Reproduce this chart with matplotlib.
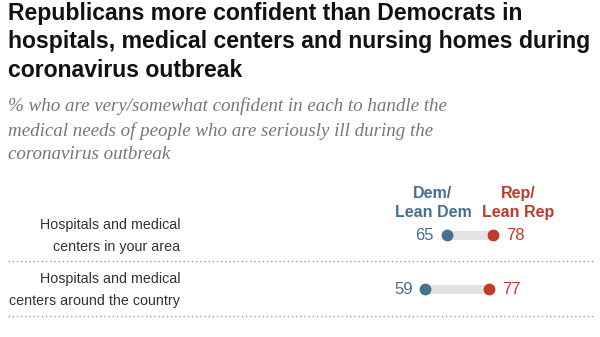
import matplotlib.pyplot as plt
from matplotlib import font_manager

# 数据
Items = ["Hospitals and medical\ncenters in your area",
         "Hospitals and medical\ncenters around the country"]
Dem_Vals = [65, 59]
Rep_Vals = [78, 77]

Dem_Color = "#46708f"
Rep_Color = "#be3b26"

names = set(f.name for f in font_manager.fontManager.ttflist)
narrow = "Liberation Sans Narrow" if "Liberation Sans Narrow" in names else "Liberation Sans"

fig = plt.figure(figsize=(6.0, 3.37), dpi=100)
W, H = 600, 337

# 标题和副标题（按像素定位）
fig.text(8 / W, 1 - 2 / H,
         "Republicans more confident than Democrats in\n"
         "hospitals, medical centers and nursing homes during\n"
         "coronavirus outbreak",
         family=narrow, weight="bold", fontsize=16.6, color="#111111",
         va="top", ha="left", linespacing=1.3)
fig.text(8 / W, 1 - 97 / H,
         "% who are very/somewhat confident in each to handle the\n"
         "medical needs of people who are seriously ill during the\n"
         "coronavirus outbreak",
         family="Liberation Serif", style="italic", fontsize=13.7,
         color="#777777", va="top", ha="left", linespacing=1.5)

# 点图坐标轴：x为数值，y为像素
ax = fig.add_axes([0, 0, 1, 1])
ax.set_xlim(-216 / 3.55, (W - 216) / 3.55)
ax.set_ylim(H, 0)
ax.axis("off")

row_y = [235, 289]
sep_y = [261, 316]

ax.text((433 - 216) / 3.55, 203, "Dem/\nLean Dem", color=Dem_Color,
        family=narrow, weight="bold", fontsize=11.5, ha="center", va="center",
        linespacing=1.3)
ax.text((518 - 216) / 3.55, 203, "Rep/\nLean Rep", color=Rep_Color,
        family=narrow, weight="bold", fontsize=11.5, ha="center", va="center",
        linespacing=1.3)

for i in range(len(Items)):
    y = row_y[i]
    d, r = Dem_Vals[i], Rep_Vals[i]
    ax.plot([d, r], [y, y], color="#e3e3e3", lw=6.5, solid_capstyle="butt", zorder=1)
    ax.plot(d, y, "o", color=Dem_Color, ms=7.5, zorder=2)
    ax.plot(r, y, "o", color=Rep_Color, ms=7.5, zorder=2)
    ax.text(d - 3.6, y, str(d), color=Dem_Color, fontsize=12,
            family="Liberation Sans", ha="right", va="center")
    ax.text(r + 3.6, y, str(r), color=Rep_Color, fontsize=12,
            family="Liberation Sans", ha="left", va="center")
    fig.text(180 / W, 1 - (y + 1) / H, Items[i], color="#333333", fontsize=10.3,
             family="Liberation Sans", ha="right", va="center", linespacing=1.65)
    fig.add_artist(plt.Line2D([8 / W, 595 / W], [1 - sep_y[i] / H] * 2,
                              color="#999999", lw=1, ls=(0, (1, 2))))

fig.savefig("out.png", dpi=100)
